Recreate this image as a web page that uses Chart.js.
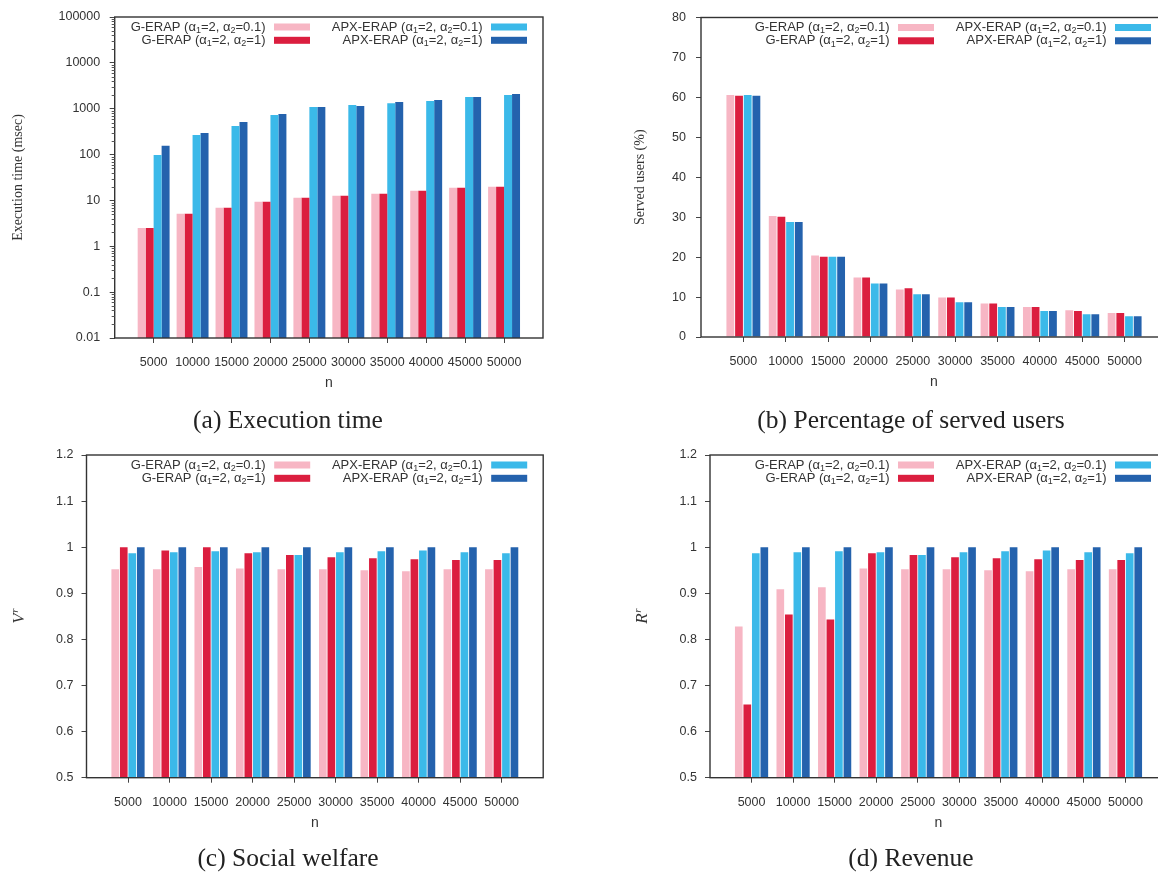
<!DOCTYPE html>
<html>
<head>
<meta charset="utf-8">
<script src="https://cdn.jsdelivr.net/npm/chart.js@4.4.1/dist/chart.umd.min.js"></script>
<style>
  html, body { margin: 0; padding: 0; background: #fff; }
  body { width: 1158px; height: 874px; overflow: hidden; position: relative; }
  canvas { position: absolute; }
  .cap {
    position: absolute;
    font-family: "Liberation Serif", serif;
    font-size: 25.5px;
    color: #222;
    transform: translate(-50%, -50%);
    white-space: nowrap;
  }
</style>
</head>
<body>
<canvas id="chartTime" width="579" height="437" style="left:0;top:0"></canvas>
<canvas id="chartServed" width="600" height="437" style="left:579px;top:0"></canvas>
<canvas id="chartWelfare" width="579" height="437" style="left:0;top:437px"></canvas>
<canvas id="chartRevenue" width="600" height="437" style="left:579px;top:437px"></canvas>
<div class="cap" style="left:288px;top:420px">(a) Execution time</div>
<div class="cap" style="left:911px;top:420px">(b) Percentage of served users</div>
<div class="cap" style="left:288px;top:858px">(c) Social welfare</div>
<div class="cap" style="left:911px;top:858px">(d) Revenue</div>

<script>
// ---- data ----
const categories = ['5000', '10000', '15000', '20000', '25000', '30000', '35000', '40000', '45000', '50000'];
const seriesLabels = [
  'G-ERAP (α_1=2, α_2=0.1)',
  'G-ERAP (α_1=2, α_2=1)',
  'APX-ERAP (α_1=2, α_2=0.1)',
  'APX-ERAP (α_1=2, α_2=1)'
];
const seriesColors = ['#F7B6C4', '#DB1E3F', '#3BB9E9', '#2462AD'];

// (a) execution time (msec)
const timeG01   = [2.5, 5.1, 6.9, 9.4, 11.4, 12.6, 14.0, 16.3, 18.9, 19.9];
const timeG1    = [2.5, 5.1, 6.9, 9.4, 11.4, 12.6, 14.0, 16.3, 18.9, 19.9];
const timeApx01 = [98, 268, 420, 730, 1090, 1200, 1320, 1470, 1790, 1980];
const timeApx1  = [155, 296, 515, 770, 1090, 1140, 1400, 1540, 1790, 2090];
const timeTicks = [0.01, 0.1, 1, 10, 100, 1000, 10000, 100000];

// (b) served users (%)
const servedG01   = [60.6, 30.3, 20.4, 14.9, 11.9, 9.9, 8.4, 7.5, 6.7, 6.0];
const servedG1    = [60.4, 30.1, 20.1, 14.9, 12.2, 9.9, 8.4, 7.5, 6.5, 6.0];
const servedApx01 = [60.6, 28.8, 20.1, 13.4, 10.7, 8.7, 7.5, 6.5, 5.7, 5.2];
const servedApx1  = [60.4, 28.8, 20.1, 13.4, 10.7, 8.7, 7.5, 6.5, 5.7, 5.2];

// (c) social welfare ratio
const welfareG01   = [0.952, 0.952, 0.957, 0.954, 0.952, 0.952, 0.950, 0.948, 0.952, 0.952];
const welfareG1    = [1.000, 0.993, 1.000, 0.987, 0.983, 0.978, 0.976, 0.974, 0.972, 0.972];
const welfareApx01 = [0.987, 0.989, 0.991, 0.989, 0.983, 0.989, 0.991, 0.993, 0.989, 0.987];
const welfareApx1  = [1, 1, 1, 1, 1, 1, 1, 1, 1, 1];

// (d) revenue ratio
const revenueG01   = [0.828, 0.909, 0.913, 0.954, 0.952, 0.952, 0.950, 0.948, 0.952, 0.952];
const revenueG1    = [0.659, 0.854, 0.843, 0.987, 0.983, 0.978, 0.976, 0.974, 0.972, 0.972];
const revenueApx01 = [0.987, 0.989, 0.991, 0.989, 0.983, 0.989, 0.991, 0.993, 0.989, 0.987];
const revenueApx1  = [1, 1, 1, 1, 1, 1, 1, 1, 1, 1];

// one empty slot on each side of the categories, so the axis spans 11 units
const axisLabels = ['', ...categories, ''];
const pad = arr => [null, ...arr, null];

const SANS = '"Liberation Sans", Arial, sans-serif';
const SERIF = '"Liberation Serif", "Times New Roman", serif';
const INK = '#333';

// ---- plugins ----
// closed box around the plot area
const framePlugin = {
  id: 'frame',
  afterDraw(chart) {
    const { ctx, chartArea: a } = chart;
    ctx.save();
    ctx.strokeStyle = '#333';
    ctx.lineWidth = 1.4;
    ctx.strokeRect(a.left, a.top, a.right - a.left, a.bottom - a.top);
    ctx.restore();
  }
};

// text with "_x" subscripts, right-aligned at xRight
function drawSubText(ctx, text, xRight, cy) {
  const parts = text.split(/_(.)/);
  const main = '13px ' + SANS, sub = '9px ' + SANS;
  let w = 0;
  parts.forEach((p, k) => { ctx.font = k % 2 ? sub : main; w += ctx.measureText(p).width; });
  let x = xRight - w;
  ctx.textAlign = 'left';
  ctx.textBaseline = 'middle';
  ctx.fillStyle = INK;
  parts.forEach((p, k) => {
    ctx.font = k % 2 ? sub : main;
    ctx.fillText(p, x, cy + (k % 2 ? 3.5 : 0));
    x += ctx.measureText(p).width;
  });
}

// two-column key in the upper right of the plot: label, then colour swatch
const keyPlugin = {
  id: 'key',
  afterDraw(chart) {
    const { ctx, chartArea: a } = chart;
    const swatchRight = [a.right - 233, a.right - 16];
    ctx.save();
    chart.data.datasets.forEach((d, i) => {
      const col = Math.floor(i / 2), row = i % 2;
      const sr = swatchRight[col], sl = sr - 36;
      const cy = a.top + 10 + row * 13.3;
      ctx.fillStyle = d.backgroundColor;
      ctx.fillRect(sl, cy - 3.5, 36, 7);
      drawSubText(ctx, d.label, sl - 8.5, cy);
    });
    ctx.restore();
  }
};

// rotated y title with an italic superscript (V^r, R^r)
const supTitlePlugin = {
  id: 'supTitle',
  afterDraw(chart, args, opts) {
    if (!opts || !opts.base) return;
    const { ctx, chartArea: a } = chart;
    const cy = (a.top + a.bottom) / 2;
    ctx.save();
    ctx.translate(opts.x, cy);
    ctx.rotate(-Math.PI / 2);
    ctx.fillStyle = INK;
    ctx.textBaseline = 'middle';
    ctx.textAlign = 'left';
    ctx.font = 'italic 17px ' + SERIF;
    const w1 = ctx.measureText(opts.base).width;
    ctx.font = 'italic 11px ' + SERIF;
    const w2 = ctx.measureText(opts.sup).width;
    const x0 = -(w1 + w2) / 2;
    ctx.font = 'italic 17px ' + SERIF;
    ctx.fillText(opts.base, x0, 0);
    ctx.font = 'italic 11px ' + SERIF;
    ctx.fillText(opts.sup, x0 + w1 + 0.5, -5);
    ctx.restore();
  }
};

// short minor ticks (2..9 per decade) on a logarithmic y axis
const minorLogPlugin = {
  id: 'minorLog',
  afterDraw(chart, args, opts) {
    if (!opts || !opts.enabled) return;
    const { ctx, chartArea: a } = chart;
    const y = chart.scales.y;
    ctx.save();
    ctx.strokeStyle = '#555';
    ctx.lineWidth = 1;
    ctx.beginPath();
    for (let e = Math.log10(y.min); e < Math.log10(y.max); e++) {
      for (let m = 2; m <= 9; m++) {
        const py = Math.round(y.getPixelForValue(m * Math.pow(10, e))) + 0.5;
        ctx.moveTo(a.left - 3, py);
        ctx.lineTo(a.left, py);
      }
    }
    ctx.stroke();
    ctx.restore();
  }
};

function makeChart(canvasId, series, o) {
  const datasets = series.map((vals, i) => {
    const ds = {
      label: seriesLabels[i],
      data: pad(vals),
      backgroundColor: seriesColors[i],
      borderWidth: 0,
      categoryPercentage: o.catPct,
      barPercentage: o.barPct
    };
    if (o.base !== undefined) ds.base = o.base;
    return ds;
  });
  const yScale = Object.assign({
    grid: { display: true, drawOnChartArea: false, drawTicks: true, tickLength: 5, tickColor: '#444' },
    border: { display: false },
    afterFit: s => { s.width = o.yWidth; }
  }, o.y);
  yScale.ticks = Object.assign({
    autoSkip: false, padding: o.yPad, color: INK, font: { family: SANS, size: 12.5 }
  }, o.y.ticks || {});

  return new Chart(document.getElementById(canvasId), {
    type: 'bar',
    data: { labels: axisLabels, datasets },
    options: {
      responsive: false,
      animation: false,
      events: [],
      layout: { padding: { left: 0, top: o.top, right: o.right, bottom: o.bottom } },
      plugins: {
        legend: { display: false },
        tooltip: { enabled: false },
        supTitle: o.supTitle || {},
        minorLog: { enabled: !!o.log }
      },
      scales: {
        x: {
          type: 'category',
          offset: false,
          grid: {
            display: true, offset: false, drawOnChartArea: false, drawTicks: true, tickLength: 5,
            tickColor: c => (c.index === 0 || c.index === axisLabels.length - 1) ? 'rgba(0,0,0,0)' : '#444'
          },
          border: { display: false },
          ticks: { autoSkip: false, maxRotation: 0, padding: 12, color: INK, font: { family: SANS, size: 12.5 } },
          title: { display: true, text: 'n', color: INK, font: { family: SANS, size: 14 }, padding: { top: 0, bottom: 0 } },
          afterFit: s => { s.height = 54; }
        },
        y: yScale
      }
    },
    plugins: [framePlugin, keyPlugin, supTitlePlugin, minorLogPlugin]
  });
}

// (a) Execution time
makeChart('chartTime', [timeG01, timeG1, timeApx01, timeApx1], {
  top: 15, right: 36, bottom: 45, yWidth: 114.7, yPad: 9.5,
  catPct: 0.82, barPct: 1, log: true,
  y: {
    type: 'logarithmic', min: 0.01, max: 100000,
    afterBuildTicks: s => { s.ticks = timeTicks.map(v => ({ value: v })); },
    ticks: { callback: v => String(v) },
    title: { display: true, text: 'Execution time (msec)', color: INK, font: { family: SERIF, size: 14 }, padding: { top: 9.6, bottom: 0 } }
  }
});

// (b) Percentage of served users
makeChart('chartServed', [servedG01, servedG1, servedApx01, servedApx1], {
  top: 15, right: 12, bottom: 46, yWidth: 122, yPad: 10,
  catPct: 0.82, barPct: 0.9,
  y: {
    type: 'linear', min: 0, max: 80,
    ticks: { stepSize: 10 },
    title: { display: true, text: 'Served users (%)', color: INK, font: { family: SERIF, size: 14 }, padding: { top: 52.6, bottom: 0 } }
  }
});

// (c) Social welfare
makeChart('chartWelfare', [welfareG01, welfareG1, welfareApx01, welfareApx1], {
  top: 18, right: 35.8, bottom: 42.3, yWidth: 86.5, yPad: 8,
  catPct: 0.82, barPct: 0.9, base: 0.5,
  supTitle: { base: 'V', sup: 'r', x: 20 },
  y: {
    type: 'linear', min: 0.5, max: 1.2,
    ticks: { stepSize: 0.1, callback: v => String(Math.round(v * 10) / 10) }
  }
});

// (d) Revenue
makeChart('chartRevenue', [revenueG01, revenueG1, revenueApx01, revenueApx1], {
  top: 18, right: 12, bottom: 42.3, yWidth: 131, yPad: 8,
  catPct: 0.82, barPct: 0.9, base: 0.5,
  supTitle: { base: 'R', sup: 'r', x: 64 },
  y: {
    type: 'linear', min: 0.5, max: 1.2,
    ticks: { stepSize: 0.1, callback: v => String(Math.round(v * 10) / 10) }
  }
});
</script>
</body>
</html>
